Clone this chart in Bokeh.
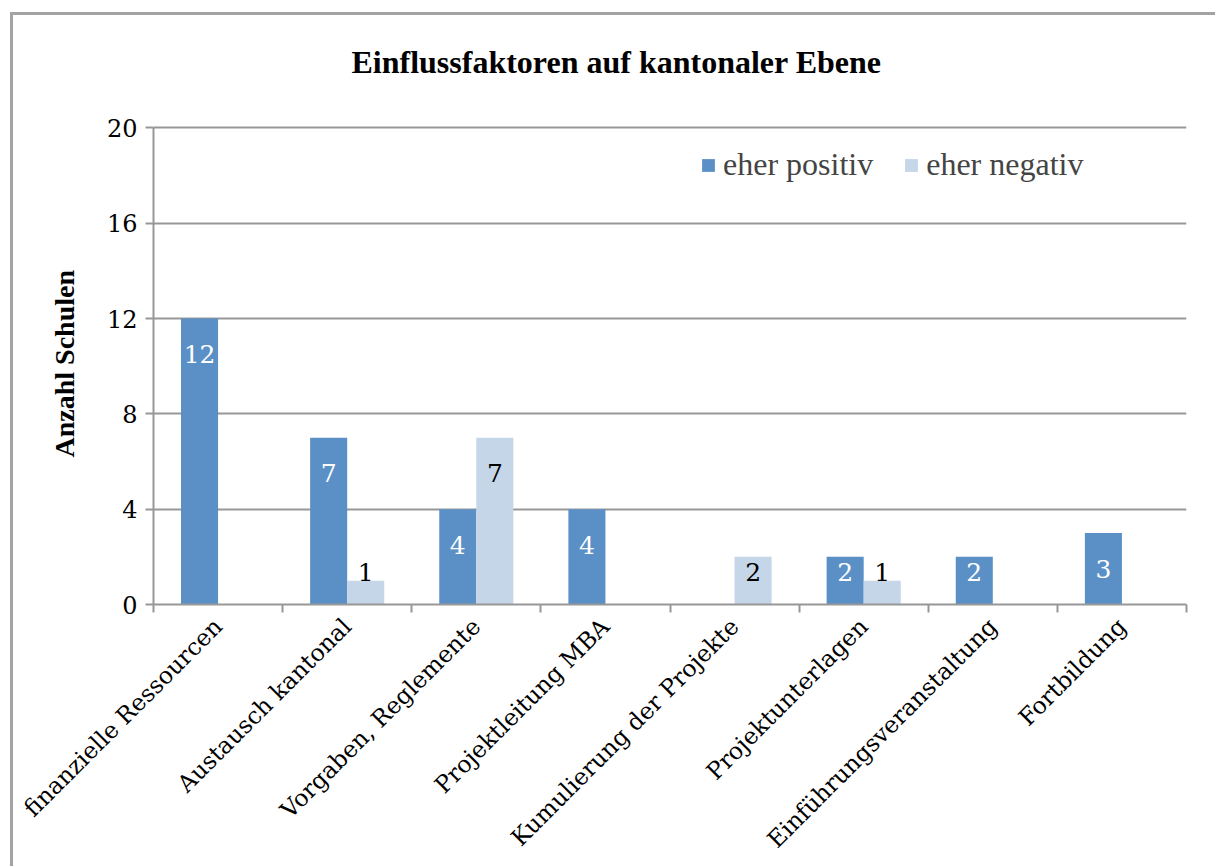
import math
from bokeh.plotting import figure
from bokeh.models import (ColumnDataSource, FixedTicker, Legend, LegendItem, Label, Title)
from bokeh.core.properties import value
from bokeh.embed import file_html
from bokeh.resources import INLINE

categories = ["finanzielle Ressourcen", "Austausch kantonal", "Vorgaben, Reglemente",
              "Projektleitung MBA", "Kumulierung der Projekte", "Projektunterlagen",
              "Einführungsveranstaltung", "Fortbildung"]
eher_positiv = [12, 7, 4, 4, 0, 2, 2, 3]
eher_negativ = [0, 1, 7, 0, 2, 1, 0, 0]
y_ticks = [0, 4, 8, 12, 16, 20]
title_text = "Einflussfaktoren auf kantonaler Ebene"
y_label = "Anzahl Schulen"

POS = "#5b90c6"
NEG = "#c4d6e8"
GRID = "#979797"
SERIF = "DejaVu Serif"
TIMES = "Liberation Serif"

n = len(categories)
bw = 0.287
centers = [i + 0.5 for i in range(n)]
y_top = y_ticks[-1]

def lab_y(v):
    return max(v - 1.5, 1.35)

pos_src = ColumnDataSource(dict(
    x=[c - bw / 2 for c in centers], top=eher_positiv,
    ly=[lab_y(v) for v in eher_positiv],
    txt=[str(v) if v else "" for v in eher_positiv]))
neg_src = ColumnDataSource(dict(
    x=[c + bw / 2 for c in centers], top=eher_negativ,
    ly=[lab_y(v) for v in eher_negativ],
    txt=[str(v) if v else "" for v in eher_negativ]))

# the frame reaches above the value axis so the title can sit inside it
p = figure(width=1205, height=854, x_range=(0, n), y_range=(0, y_top * 1.2),
           output_backend="svg", toolbar_location=None,
           min_border_left=140, min_border_right=32,
           min_border_top=17, min_border_bottom=265)
p.styles = {"margin-left": "10px", "margin-top": "12px",
            "border-top": "3px solid #a3a3a3", "border-left": "3px solid #a3a3a3"}
p.outline_line_color = None
p.background_fill_color = "white"

r_pos = p.vbar(x="x", top="top", width=bw, bottom=0, source=pos_src,
               fill_color=POS, line_color=None)
r_neg = p.vbar(x="x", top="top", width=bw, bottom=0, source=neg_src,
               fill_color=NEG, line_color=None)

p.text(x="x", y="ly", text="txt", source=pos_src, text_color="white",
       text_font=value(SERIF), text_font_size="25px",
       text_align="center", text_baseline="middle")
p.text(x="x", y="ly", text="txt", source=neg_src, text_color="black",
       text_font=value(SERIF), text_font_size="25px",
       text_align="center", text_baseline="middle")

# title
p.add_layout(Label(x=3.586, y=22.77, text=title_text, text_font=TIMES,
                   text_font_style="bold", text_font_size="32px",
                   text_align="center", text_baseline="middle", text_color="black"))

# y axis title, placed against the 0..20 part of the axis
p.add_layout(Title(text=y_label, align="left", offset=147, standoff=48,
                   vertical_align="bottom", text_font=TIMES, text_font_style="bold",
                   text_font_size="28px", text_color="black"), "left")

# axes
p.xaxis.ticker = FixedTicker(ticks=centers, minor_ticks=list(range(n + 1)))
p.xaxis.major_label_overrides = {c: categories[i] for i, c in enumerate(centers)}
p.xaxis.major_label_orientation = math.pi / 4
p.xaxis.major_tick_line_color = None
p.xaxis.minor_tick_line_color = GRID
p.xaxis.minor_tick_line_width = 2
p.xaxis.minor_tick_out = 8
p.xaxis.minor_tick_in = 0
p.xaxis.axis_line_color = GRID
p.xaxis.axis_line_width = 2
p.xaxis.major_label_text_font = SERIF
p.xaxis.major_label_text_font_size = "23.5px"
p.xaxis.major_label_text_color = "black"
p.xaxis.major_label_standoff = 10

p.yaxis.ticker = FixedTicker(ticks=y_ticks)
p.yaxis.bounds = (0, y_top)
p.yaxis.minor_tick_line_color = None
p.yaxis.major_tick_line_color = GRID
p.yaxis.major_tick_line_width = 2
p.yaxis.major_tick_out = 8
p.yaxis.major_tick_in = 0
p.yaxis.axis_line_color = GRID
p.yaxis.axis_line_width = 2
p.yaxis.major_label_text_font = SERIF
p.yaxis.major_label_text_font_size = "24px"
p.yaxis.major_label_text_color = "black"
p.yaxis.major_label_standoff = 8

p.xgrid.grid_line_color = None
p.ygrid.grid_line_color = GRID
p.ygrid.grid_line_width = 2

legend = Legend(items=[LegendItem(label="eher positiv", renderers=[r_pos]),
                       LegendItem(label="eher negativ", renderers=[r_neg])],
                orientation="horizontal", location=(547, 421),
                label_text_font=TIMES, label_text_font_size="32px",
                glyph_width=16, glyph_height=16, label_standoff=7, spacing=30,
                padding=0, margin=0, border_line_color=None,
                background_fill_alpha=0)
p.add_layout(legend, "center")

open("out.html", "w").write(file_html(p, INLINE))
